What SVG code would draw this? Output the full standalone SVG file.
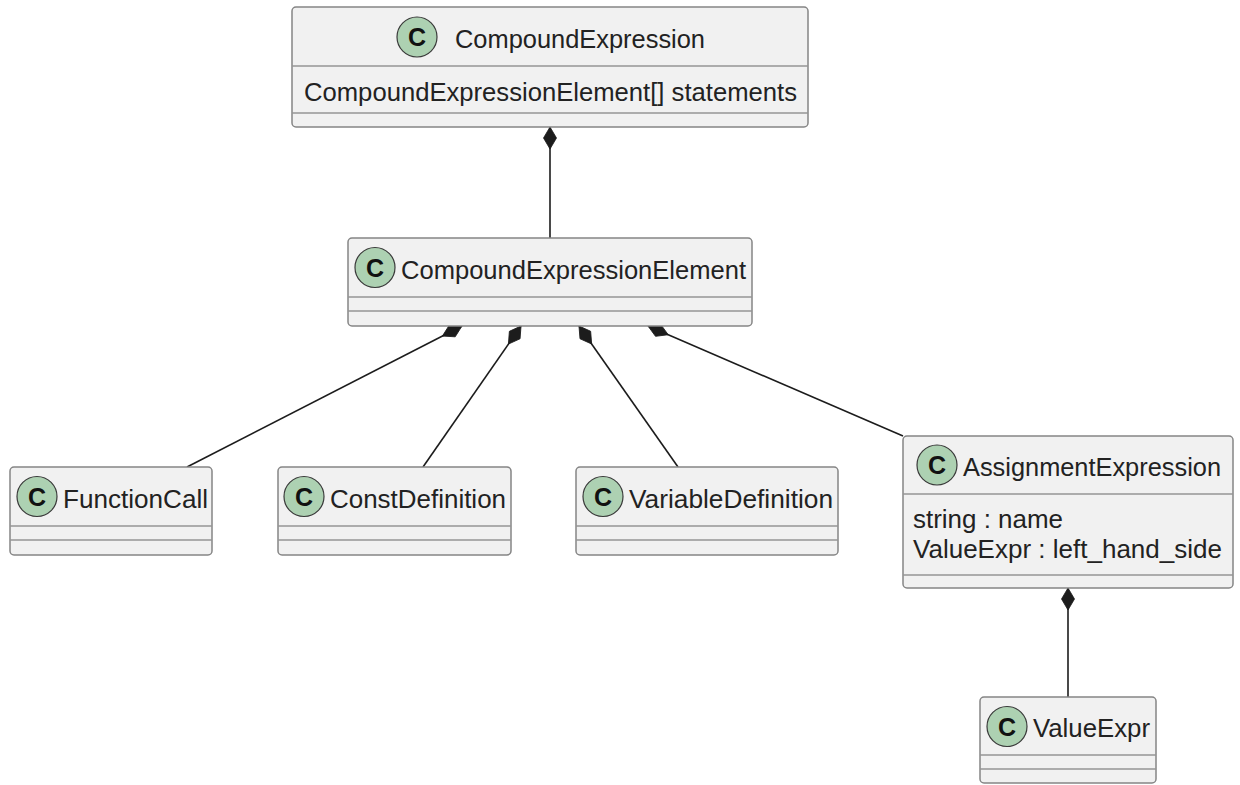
<svg xmlns="http://www.w3.org/2000/svg" width="1240" height="785" viewBox="0 0 1240 785">
  <style>
    .box { fill: #F1F1F1; stroke: #858585; stroke-width: 1.5; }
    .div { stroke: #959595; stroke-width: 1.5; }
    .spot { fill: #ADD1B2; stroke: #3a3a3a; stroke-width: 1.2; }
    .spotc { font-family: "Liberation Sans", Arial, sans-serif; font-size: 25px; font-weight: bold; fill: #111; text-anchor: middle; }
    .name { font-family: "Liberation Sans", Arial, sans-serif; font-size: 25px; fill: #222; }
    .attr { font-family: "Liberation Sans", Arial, sans-serif; font-size: 25px; fill: #222; }
    .edge { fill: none; stroke: #1c1c1c; stroke-width: 1.6; marker-start: url(#composition); }
  </style>
  <defs>
    <marker id="composition" markerUnits="userSpaceOnUse" markerWidth="24" markerHeight="16" refX="0" refY="8" orient="auto" overflow="visible">
      <path d="M0,8 L11,1.5 L22,8 L11,14.5 Z" fill="#1c1c1c" stroke="#1c1c1c" stroke-width="0.8"/>
    </marker>
  </defs>

  <!-- composition connectors -->
  <g id="connectors">
    <path class="edge" d="M550,127 L550,238"/>
    <path class="edge" d="M462,326 L187,467"/>
    <path class="edge" d="M521,326 L423,467"/>
    <path class="edge" d="M579,326 L678,467"/>
    <path class="edge" d="M648,326 L903,436"/>
    <path class="edge" d="M1068,588 L1068,697"/>
  </g>

  <g id="CompoundExpression">
    <rect class="box" x="292" y="7" width="516" height="120" rx="4"/>
    <line class="div" x1="292" y1="66" x2="808" y2="66"/>
    <line class="div" x1="292" y1="113" x2="808" y2="113"/>
    <circle class="spot" cx="417" cy="37" r="20"/>
    <text class="spotc" x="417" y="46">C</text>
    <text class="name" x="455" y="48" textLength="250" lengthAdjust="spacingAndGlyphs">CompoundExpression</text>
    <text class="attr" x="304" y="101" textLength="493" lengthAdjust="spacingAndGlyphs">CompoundExpressionElement[] statements</text>
  </g>

  <g id="CompoundExpressionElement">
    <rect class="box" x="348" y="238" width="404" height="88" rx="4"/>
    <line class="div" x1="348" y1="297" x2="752" y2="297"/>
    <line class="div" x1="348" y1="311" x2="752" y2="311"/>
    <circle class="spot" cx="375" cy="267.5" r="20"/>
    <text class="spotc" x="375" y="276.5">C</text>
    <text class="name" x="401" y="279" textLength="345" lengthAdjust="spacingAndGlyphs">CompoundExpressionElement</text>
  </g>

  <g id="FunctionCall">
    <rect class="box" x="10" y="467" width="202" height="88" rx="4"/>
    <line class="div" x1="10" y1="526" x2="212" y2="526"/>
    <line class="div" x1="10" y1="540" x2="212" y2="540"/>
    <circle class="spot" cx="37" cy="496.5" r="20"/>
    <text class="spotc" x="37" y="505.5">C</text>
    <text class="name" x="63" y="508" textLength="145" lengthAdjust="spacingAndGlyphs">FunctionCall</text>
  </g>

  <g id="ConstDefinition">
    <rect class="box" x="278" y="467" width="233" height="88" rx="4"/>
    <line class="div" x1="278" y1="526" x2="511" y2="526"/>
    <line class="div" x1="278" y1="540" x2="511" y2="540"/>
    <circle class="spot" cx="304" cy="496.5" r="20"/>
    <text class="spotc" x="304" y="505.5">C</text>
    <text class="name" x="330" y="508" textLength="176" lengthAdjust="spacingAndGlyphs">ConstDefinition</text>
  </g>

  <g id="VariableDefinition">
    <rect class="box" x="576" y="467" width="262" height="88" rx="4"/>
    <line class="div" x1="576" y1="526" x2="838" y2="526"/>
    <line class="div" x1="576" y1="540" x2="838" y2="540"/>
    <circle class="spot" cx="603" cy="496.5" r="20"/>
    <text class="spotc" x="603" y="505.5">C</text>
    <text class="name" x="629" y="508" textLength="204" lengthAdjust="spacingAndGlyphs">VariableDefinition</text>
  </g>

  <g id="AssignmentExpression">
    <rect class="box" x="903" y="436" width="330" height="152" rx="4"/>
    <line class="div" x1="903" y1="494" x2="1233" y2="494"/>
    <line class="div" x1="903" y1="575" x2="1233" y2="575"/>
    <circle class="spot" cx="937" cy="465" r="20"/>
    <text class="spotc" x="937" y="474">C</text>
    <text class="name" x="963" y="476" textLength="258" lengthAdjust="spacingAndGlyphs">AssignmentExpression</text>
    <text class="attr" x="913" y="528" textLength="150" lengthAdjust="spacingAndGlyphs">string : name</text>
    <text class="attr" x="913" y="558" textLength="309" lengthAdjust="spacingAndGlyphs">ValueExpr : left_hand_side</text>
  </g>

  <g id="ValueExpr">
    <rect class="box" x="980" y="697" width="176" height="86" rx="4"/>
    <line class="div" x1="980" y1="755" x2="1156" y2="755"/>
    <line class="div" x1="980" y1="769" x2="1156" y2="769"/>
    <circle class="spot" cx="1007" cy="726.5" r="20"/>
    <text class="spotc" x="1007" y="735.5">C</text>
    <text class="name" x="1033" y="737" textLength="117" lengthAdjust="spacingAndGlyphs">ValueExpr</text>
  </g>
</svg>
